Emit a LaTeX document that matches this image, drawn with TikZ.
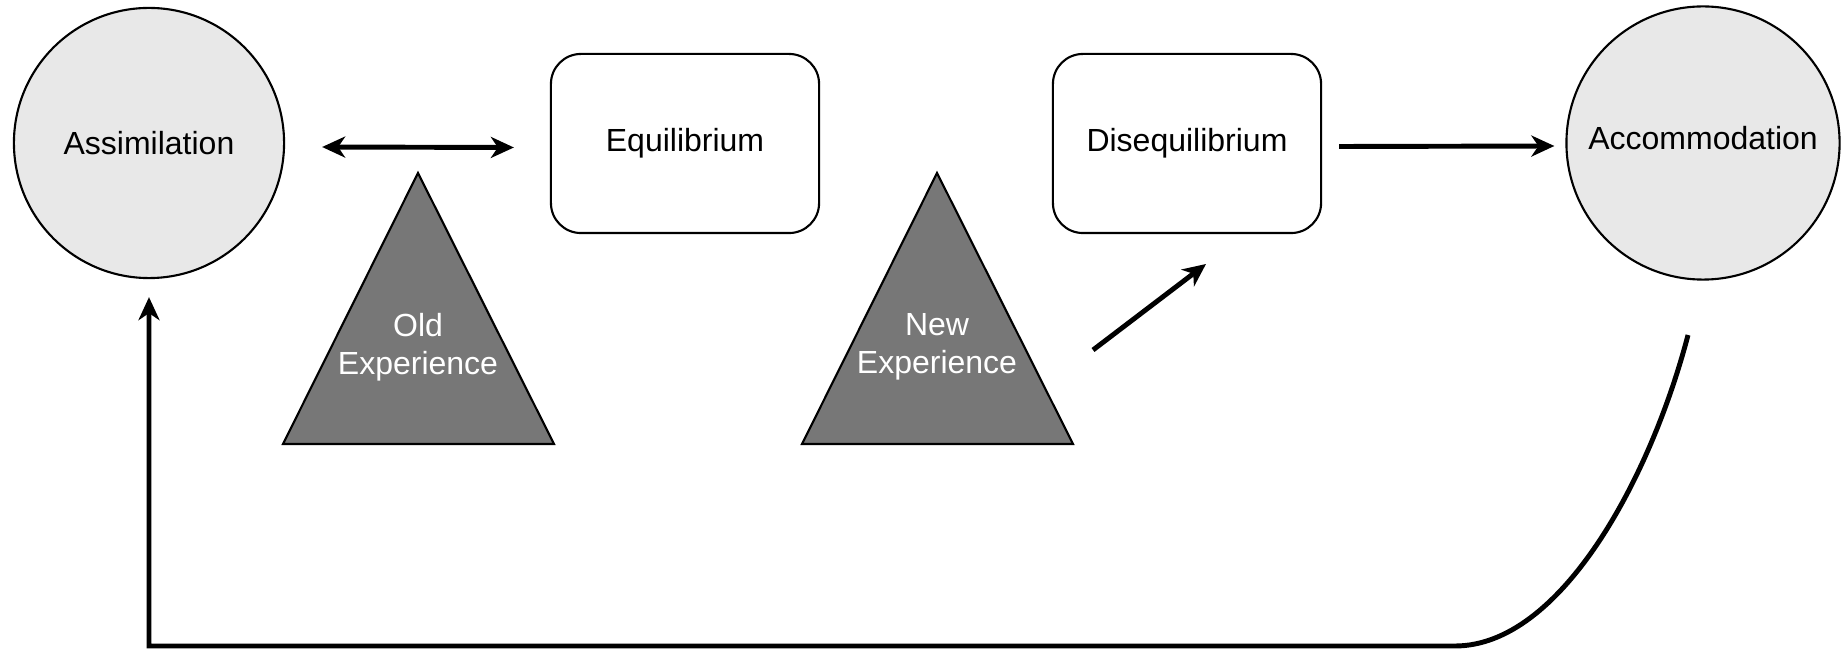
\documentclass[tikz,border=0pt]{standalone}
\usepackage{fontspec}
\setmainfont{Liberation Sans}
\usetikzlibrary{arrows.meta,calc}
\definecolor{circlefill}{HTML}{E8E8E8}
\definecolor{trifill}{HTML}{777777}
\begin{document}
\begin{tikzpicture}[x=0.01cm,y=-0.01cm,
  every node/.style={font=\fontsize{9.1}{10.7}\selectfont},
  stage/.style={circle,draw=black,line width=0.6pt,fill=circlefill,minimum size=2.7cm,inner sep=0pt},
  statebox/.style={rectangle,rounded corners=0.3cm,draw=black,line width=0.6pt,fill=white,minimum width=2.68cm,minimum height=1.79cm},
  tri/.style={draw=black,line width=0.6pt,fill=trifill},
  trilabel/.style={text=white,align=center},
  tip/.tip={Stealth[length=2.3mm,width=2.1mm,inset=0.7mm]},
  link/.style={line width=1.4pt,-tip},
]
\useasboundingbox (0,0) rectangle (1843,655);

% stages and states
\node[stage] (asm) at (149,143) {Assimilation};
\node[stage,minimum size=2.73cm] (acc) at (1703,143) {\raisebox{1mm}{Accommodation}};
\node[statebox] (eq) at (685,143.5) {\raisebox{0.4mm}{Equilibrium}};
\node[statebox] (diseq) at (1187,143.5) {\raisebox{0.4mm}{Disequilibrium}};

% experience triangles
\draw[tri] (418,173) -- (554,444) -- (283,444) -- cycle;
\node[trilabel] (old) at (418,347) {Old\\Experience};
\draw[tri] (937,173) -- (1073,444) -- (802,444) -- cycle;
\node[trilabel] (new) at (937,347) {New\\Experience};

% connectors
\draw[link,tip-tip] ($(asm.east)+(37,4)$) -- ($(eq.west)+(-36,4)$);
\coordinate (newtip) at (1206,264);
\coordinate (newtail) at (1093,350);
\draw[link] (newtail) -- (newtip);
\draw[link] ($(diseq.east)+(17,3)$) -- ($(acc.west)+(-11,3)$);

% return path from accommodation back to assimilation
\coordinate (ret0) at (1688,335);
\coordinate (ret1) at (1455,646);
\coordinate (ret2) at (149,646);
\draw[link]
  (ret0) .. controls (1650,480) and (1560,646) .. (ret1)
  -- (ret2) -- ($(asm.south)+(0,18)$);
\end{tikzpicture}
\end{document}
